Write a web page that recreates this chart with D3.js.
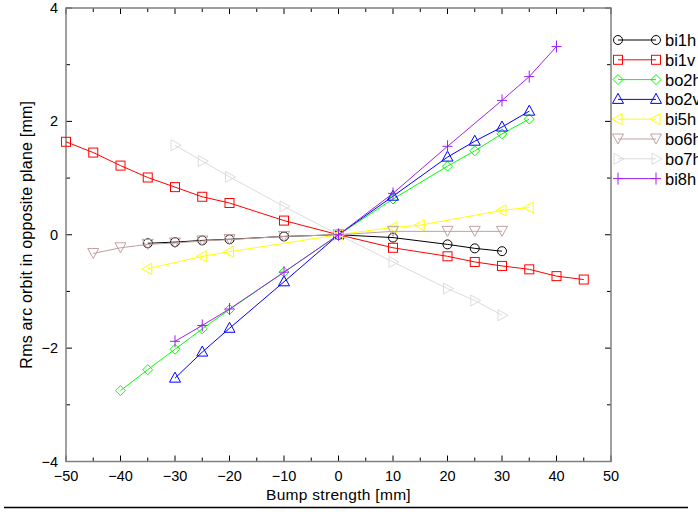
<!DOCTYPE html>
<html><head><meta charset="utf-8">
<script src="https://cdn.jsdelivr.net/npm/d3@7"></script>
<style>body{margin:0;background:#fff}svg{display:block}text{font-family:"Liberation Sans",Arial,sans-serif}</style>
</head><body>
<svg id="c" width="698" height="516"></svg>
<script>
const seriesNames = ["bi1h","bi1v","bo2h","bo2v","bi5h","bo6h","bo7h","bi8h"];
const seriesColors = ["#000000","#ff0000","#00ff00","#0000ff","#ffff00","#c0a0a0","#dcdcdc","#a020f0"];
const seriesSymbols = ["circle","square","diamond","triUp","triLeft","triDown","triRight","plus"];

const bi1hX = [-35,-30,-25,-20,-10,0,10,20,25,30];
const bi1hY = [-0.15,-0.13,-0.10,-0.08,-0.03,0,-0.05,-0.17,-0.24,-0.29];
const bi1vX = [-50,-45,-40,-35,-30,-25,-20,-10,0,10,20,25,30,35,40,45];
const bi1vY = [1.64,1.45,1.22,1.01,0.84,0.67,0.56,0.25,0,-0.23,-0.38,-0.48,-0.55,-0.61,-0.73,-0.79];
const bo2hX = [-40,-35,-30,-25,-20,-10,0,10,20,25,30,35];
const bo2hY = [-2.75,-2.38,-2.02,-1.66,-1.32,-0.66,0,0.63,1.21,1.48,1.78,2.04];
const bo2vX = [-30,-25,-20,-10,0,10,20,25,30,35];
const bo2vY = [-2.53,-2.07,-1.65,-0.83,0,0.68,1.37,1.65,1.90,2.18];
const bi5hX = [-35,-25,-20,0,10,15,30,35];
const bi5hY = [-0.60,-0.38,-0.30,0,0.13,0.17,0.43,0.48];
const bo6hX = [-45,-40,-35,-30,-25,-20,-10,0,10,20,25,30];
const bo6hY = [-0.33,-0.23,-0.17,-0.145,-0.11,-0.085,-0.03,0,0.06,0.06,0.06,0.06];
const bo7hX = [-30,-25,-20,-10,0,10,20,25,30];
const bo7hY = [1.58,1.30,1.02,0.50,0,-0.48,-0.95,-1.16,-1.42];
const bi8hX = [-30,-25,-20,-10,0,10,20,30,35,40];
const bi8hY = [-1.88,-1.60,-1.31,-0.66,0,0.73,1.56,2.37,2.79,3.32];

const xTicks = [-50,-40,-30,-20,-10,0,10,20,30,40,50];
const yTicks = [-4,-2,0,2,4];
const xLabel = "Bump strength [mm]";
const yLabel = "Rms arc orbit in opposite plane [mm]";

const allX = [bi1hX,bi1vX,bo2hX,bo2vX,bi5hX,bo6hX,bo7hX,bi8hX];
const allY = [bi1hY,bi1vY,bo2hY,bo2vY,bi5hY,bo6hY,bo7hY,bi8hY];

const svg = d3.select("#c");
const L = 66, R = 611, T = 8, B = 461.5;
const x = d3.scaleLinear().domain([-50,50]).range([L,R]);
const y = d3.scaleLinear().domain([-4,4]).range([B,T]);

const frameColor = "#808080";
const g = svg.append("g");
const minorX = d3.range(-50,51,5), minorY = d3.range(-4,5,1);
minorX.forEach(v=>{
  const len = (v%10===0)?6:4;
  g.append("line").attr("x1",x(v)).attr("x2",x(v)).attr("y1",B).attr("y2",B-len).attr("stroke","#000");
  g.append("line").attr("x1",x(v)).attr("x2",x(v)).attr("y1",T).attr("y2",T+len).attr("stroke","#000");
});
minorY.forEach(v=>{
  const len = (v%2===0)?6:4;
  g.append("line").attr("y1",y(v)).attr("y2",y(v)).attr("x1",L).attr("x2",L+len).attr("stroke","#000");
  g.append("line").attr("y1",y(v)).attr("y2",y(v)).attr("x1",R).attr("x2",R-len).attr("stroke","#000");
});
g.append("rect").attr("x",L).attr("y",T).attr("width",R-L).attr("height",B-T)
  .attr("fill","none").attr("stroke",frameColor).attr("stroke-width",1.5);

svg.append("g").selectAll("text").data(xTicks).join("text")
  .attr("x",d=>x(d)).attr("y",B+19).attr("text-anchor","middle")
  .attr("font-size",14.5).text(d=>d<0?"\u2212"+Math.abs(d):d);
svg.append("g").selectAll("text").data(yTicks).join("text")
  .attr("x",L-8).attr("y",d=>y(d)+5).attr("text-anchor","end")
  .attr("font-size",14.5).text(d=>d<0?"\u2212"+Math.abs(d):d);
svg.append("text").attr("x",(L+R)/2).attr("y",500).attr("text-anchor","middle")
  .attr("font-size",15.5).attr("letter-spacing",0.3).text(xLabel);
svg.append("text").attr("transform",`translate(32,${(T+B)/2}) rotate(-90)`)
  .attr("text-anchor","middle").attr("font-size",16).attr("letter-spacing",0.2).text(yLabel);

svg.append("line").attr("x1",4).attr("x2",688).attr("y1",507.5).attr("y2",507.5)
  .attr("stroke","#000").attr("stroke-width",1.5);

function drawSymbol(sel, type, cx, cy, color){
  let el;
  switch(type){
    case "circle": el = sel.append("circle").attr("cx",cx).attr("cy",cy).attr("r",4.5); break;
    case "square": el = sel.append("rect").attr("x",cx-4.5).attr("y",cy-4.5).attr("width",9).attr("height",9); break;
    case "diamond": el = sel.append("path").attr("d",`M${cx},${cy-5}L${cx+5},${cy}L${cx},${cy+5}L${cx-5},${cy}Z`); break;
    case "triUp": el = sel.append("path").attr("d",`M${cx},${cy-6}L${cx+5.5},${cy+4}L${cx-5.5},${cy+4}Z`); break;
    case "triDown": el = sel.append("path").attr("d",`M${cx},${cy+5}L${cx+5.5},${cy-5}L${cx-5.5},${cy-5}Z`); break;
    case "triLeft": el = sel.append("path").attr("d",`M${cx-6},${cy}L${cx+4},${cy-5.5}L${cx+4},${cy+5.5}Z`); break;
    case "triRight": el = sel.append("path").attr("d",`M${cx+6},${cy}L${cx-4},${cy-5.5}L${cx-4},${cy+5.5}Z`); break;
    case "plus": el = sel.append("path").attr("d",`M${cx-5},${cy}H${cx+5}M${cx},${cy-6}V${cy+6}`); break;
  }
  el.attr("fill","none").attr("stroke",color).attr("stroke-width",1);
}

const line = d3.line().x(d=>x(d[0])).y(d=>y(d[1]));
const plot = svg.append("g");
seriesNames.forEach((name,i)=>{
  const pts = allX[i].map((v,j)=>[v,allY[i][j]]);
  plot.append("path").attr("d",line(pts)).attr("fill","none")
    .attr("stroke",seriesColors[i]).attr("stroke-width",1);
  pts.forEach(p=>drawSymbol(plot, seriesSymbols[i], x(p[0]), y(p[1]), seriesColors[i]));
});

const lg = svg.append("g");
seriesNames.forEach((name,i)=>{
  const yy = 40 + i*19.8;
  lg.append("line").attr("x1",618).attr("x2",656).attr("y1",yy).attr("y2",yy)
    .attr("stroke",seriesColors[i]).attr("stroke-width",1);
  drawSymbol(lg, seriesSymbols[i], 618, yy, seriesColors[i]);
  drawSymbol(lg, seriesSymbols[i], 656, yy, seriesColors[i]);
  lg.append("text").attr("x",665).attr("y",yy+6).attr("font-size",16.5).text(name);
});
</script>
</body></html>
